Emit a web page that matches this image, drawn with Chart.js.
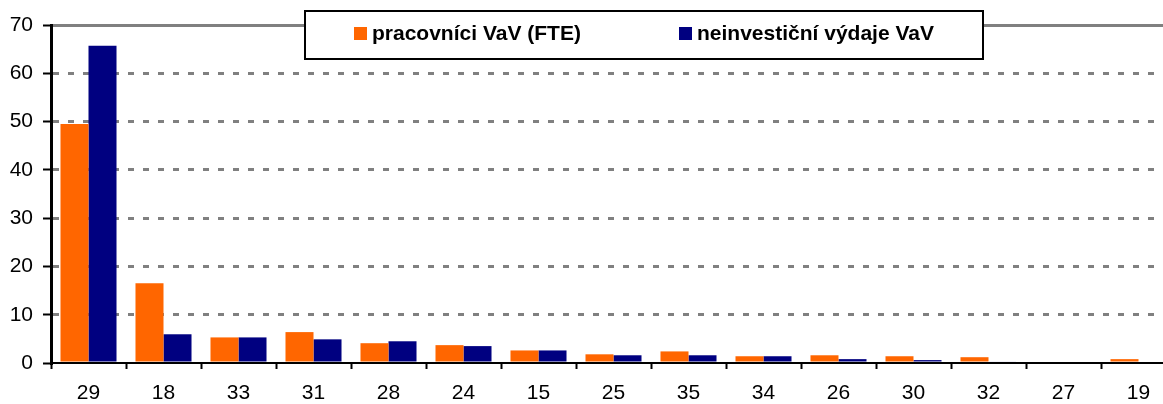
<!DOCTYPE html>
<html>
<head>
<meta charset="utf-8">
<script src="https://cdn.jsdelivr.net/npm/chart.js@4"></script>
<style>
  html, body { margin: 0; padding: 0; background: #fff; overflow: hidden; }
</style>
</head>
<body>
<canvas id="graf" width="1180" height="404"></canvas>
<script>
// Kategorie (obory) a hodnoty obou řad v %
const kategorie = ["29", "18", "33", "31", "28", "24", "15", "25", "35", "34", "26", "30", "32", "27", "19"];
const pracovnici = [49.5, 16.5, 5.3, 6.4, 4.1, 3.7, 2.6, 1.8, 2.4, 1.4, 1.6, 1.4, 1.2, 0, 0.8];
const vydaje = [65.7, 5.95, 5.3, 4.9, 4.5, 3.5, 2.6, 1.6, 1.6, 1.4, 0.8, 0.6, 0.3, 0, 0];
const nazvyRad = ["pracovníci VaV (FTE)", "neinvestiční výdaje VaV"];
const barvy = ["#FF6600", "#000080"];

const pismo = "'Liberation Sans', Arial, sans-serif";

// Legenda v rámečku nahoře (jako v Excelu)
const legendaRamecek = {
    id: "legendaRamecek",
    afterDraw(chart) {
        const ctx = chart.ctx;
        ctx.save();
        ctx.fillStyle = "#fff";
        ctx.fillRect(305, 11, 678, 48);
        ctx.lineWidth = 2;
        ctx.strokeStyle = "#000";
        ctx.strokeRect(305, 11, 678, 48);
        const polozky = [354, 679];
        ctx.font = "bold 21px " + pismo;
        ctx.textBaseline = "middle";
        chart.data.datasets.forEach(function (ds, i) {
            ctx.fillStyle = ds.backgroundColor;
            ctx.fillRect(polozky[i], 27, 13, 13);
            ctx.fillStyle = "#000";
            ctx.fillText(ds.label, polozky[i] + 18, 34);
        });
        ctx.restore();
    }
};

var ctx = document.getElementById("graf").getContext("2d");
var graf = new Chart(ctx, {
    type: "bar",
    data: {
        labels: kategorie,
        datasets: [{
            label: nazvyRad[0],
            data: pracovnici,
            backgroundColor: barvy[0],
            categoryPercentage: 0.747,
            barPercentage: 1
        }, {
            label: nazvyRad[1],
            data: vydaje,
            backgroundColor: barvy[1],
            categoryPercentage: 0.747,
            barPercentage: 1
        }]
    },
    options: {
        responsive: false,
        animation: false,
        layout: { padding: { top: 25, right: 4, left: 0, bottom: 0 } },
        plugins: {
            legend: { display: false },
            tooltip: { enabled: false }
        },
        scales: {
            x: {
                afterFit: function (s) { s.height = 41; },
                grid: {
                    offset: true,
                    drawOnChartArea: false,
                    drawTicks: true,
                    tickLength: 6,
                    tickColor: "#000",
                    tickWidth: 2
                },
                border: { color: "#000", width: 2, z: 1 },
                ticks: {
                    color: "#000",
                    padding: 12,
                    font: { family: pismo, size: 21 }
                }
            },
            y: {
                min: 0,
                max: 70,
                afterFit: function (s) { s.width = 51; },
                ticks: {
                    stepSize: 10,
                    color: "#000",
                    padding: 10,
                    font: { family: pismo, size: 21 }
                },
                grid: {
                    color: function (c) { return c.tick && c.tick.value === 0 ? "rgba(0,0,0,0)" : "#808080"; },
                    lineWidth: 3,
                    tickLength: 8,
                    tickColor: "#000",
                    tickWidth: 2
                },
                border: {
                    color: "#000",
                    width: 3,
                    z: 1,
                    dash: function (c) { return c.tick && c.tick.value === 70 ? [] : [6, 9]; }
                }
            }
        }
    },
    plugins: [legendaRamecek]
});
</script>
</body>
</html>
